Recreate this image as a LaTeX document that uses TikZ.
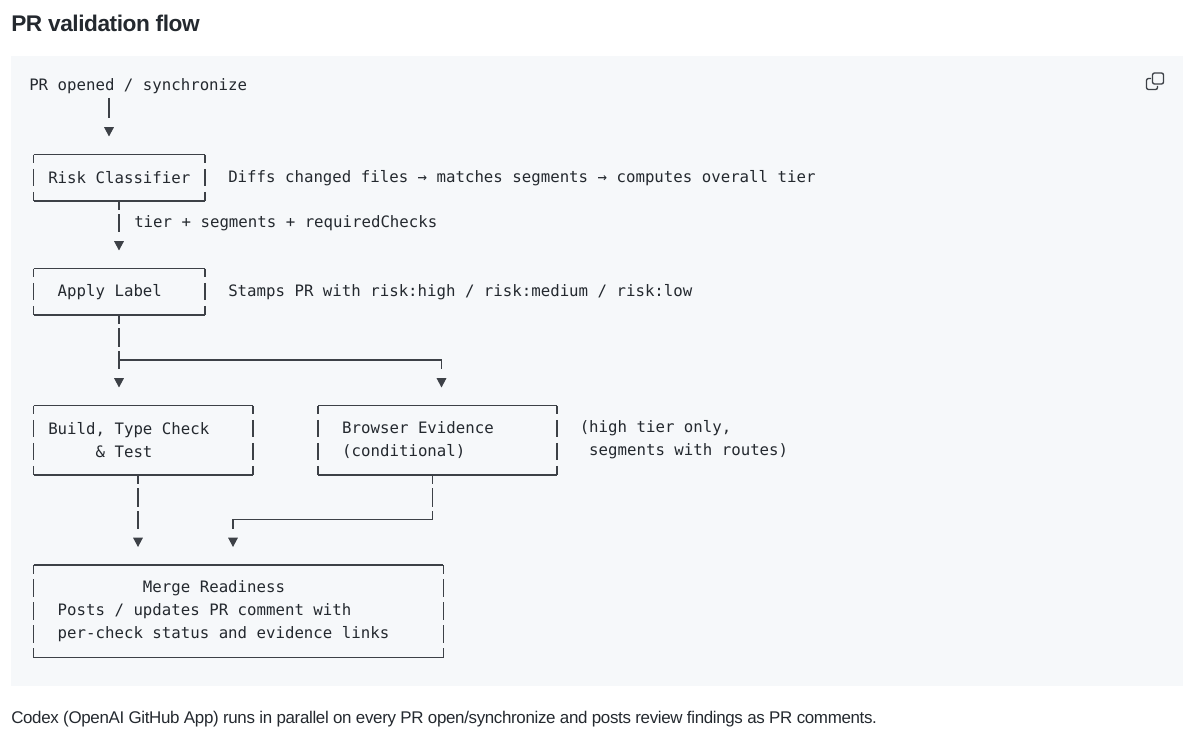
\documentclass[tikz,border=0pt]{standalone}
\usepackage{fontspec}
\setmainfont{Liberation Sans}
\newfontfamily\codefont[WordSpace={1,0,0}]{DejaVu Sans Mono}
\newfontfamily\tightfont[LetterSpace=-2.0]{Liberation Sans}
\usetikzlibrary{arrows.meta}
\definecolor{codebg}{HTML}{F6F8FA}
\definecolor{ink}{HTML}{24292F}
\definecolor{wire}{HTML}{3D4147}
\tikzset{
  code/.style={font=\codefont\fontsize{11.8}{17.25}\selectfont, text=ink, inner sep=0pt, align=left,
    execute at begin node={\spaceskip=0pt\xspaceskip=0pt\relax}},
  note/.style={code, anchor=west},
  asciibox/.style={code, anchor=north west, inner xsep=10.875pt, inner ysep=0pt, text width=#1},
  flow/.style={wire, line width=0.9pt, shorten >=13.5pt,
    -{. _[sep=6.75pt] Triangle[length=7pt,width=7.2pt]}},
  wirepart/.style={wire, line width=0.9pt},
  gapped/.style={dash pattern=on 14.25pt off 3pt, dash phase=7.5pt},
  boxtop/.style={wire, line width=0.9pt},
  boxside/.style={wire, line width=0.9pt, dash pattern=on 13.1pt off 4.15pt, dash phase=6.4pt}
}
\begin{document}
\begin{tikzpicture}[x=0.75pt, y=-0.75pt]
  \useasboundingbox (0,0) rectangle (1200,742);
  \fill[white] (0,0) rectangle (1200,742);
  \fill[codebg] (11,56) rectangle (1183,686);
  \node[anchor=west, inner sep=0pt, text=ink, font=\tightfont\bfseries\fontsize{17}{20}\selectfont] (title) at (11,23) {PR validation flow};
  \node[anchor=west, inner sep=0pt, text=ink, font=\tightfont\fontsize{12.7}{16}\selectfont] (caption) at (11,719)
  {Codex (OpenAI GitHub App) runs in parallel on every PR open/synchronize and posts review findings as PR comments.};

  % boxes
  \node[asciibox=106.5pt, minimum height=34.5pt] (risk) at (33.5,154.5) {\mbox{Risk Classifier}};
  \node[asciibox=106.5pt, minimum height=34.5pt] (label) at (33.5,268.5) {\phantom{x}Apply Label};
  \node[asciibox=142.5pt, minimum height=51.75pt] (build) at (33.5,405.5) {Build, Type Check\\\phantom{xxxxx}\& Test};
  \node[asciibox=157.1pt, minimum height=51.75pt] (browser) at (318,405.5) {\phantom{x}Browser Evidence\\\phantom{x}(conditional)};
  \node[asciibox=285.1pt, minimum height=69pt] (merge) at (33.5,565)
  {\phantom{xxxxxxxxxx}Merge Readiness\\\phantom{x}Posts / updates PR comment with\\\phantom{x}per-check status and evidence links};
  \foreach \n in {risk,label,build,browser,merge}{
    \draw[boxtop] (\n.north west) -- (\n.north east);
    \draw[boxtop] (\n.south west) -- (\n.south east);
    \draw[boxside] (\n.north west) -- (\n.south west);
    \draw[boxside] (\n.north east) -- (\n.south east);
  }

  % texts
  \node[note, minimum height=19.5pt] (pr) at (29,86) {PR opened / synchronize};
  \node[note] (risknote) at (228,178) {Diffs changed files → matches segments → computes overall tier};
  \node[note] (payload) at (134,223.5) {tier + segments + requiredChecks};
  \node[note] (labelnote) at (228,292.5) {Stamps PR with risk:high / risk:medium / risk:low};
  \node[note] (browsernote) at (579.5,440) {(high tier only,\\\phantom{x}segments with routes)};

  % connectors
  \coordinate (prdrop) at (109,98);
  \coordinate (riskout) at (119,200);
  \coordinate (branch) at (119,360);
  \coordinate (browserin) at (441.5,360);
  \coordinate (buildout) at (138,474);
  \coordinate (jog) at (432.5,519.5);
  \coordinate (mergein) at (233,519.5);
  \draw[flow] (prdrop) -- (risk.north -| prdrop);
  \draw[flow, gapped] (risk.south -| riskout) -- (label.north -| riskout);
  \draw[flow, gapped] (label.south -| riskout) -- (build.north -| riskout);
  \draw[flow] (branch) -| (browser.north -| browserin);
  \draw[flow, gapped] (build.south -| buildout) -- (merge.north -| buildout);
  \draw[wirepart, gapped] (browser.south -| jog) -- (jog);
  \draw[flow] (jog) -| (merge.north -| mergein);

  % copy icon
  \draw[wire, line width=1pt, rounded corners=1.5pt] (1152.5,73) rectangle (1163.5,84);
  \draw[wire, line width=1pt, rounded corners=1.5pt] (1151,78.5) -- (1146.5,78.5) -- (1146.5,89.5) -- (1157.5,89.5) -- (1157.5,86);
\end{tikzpicture}
\end{document}
